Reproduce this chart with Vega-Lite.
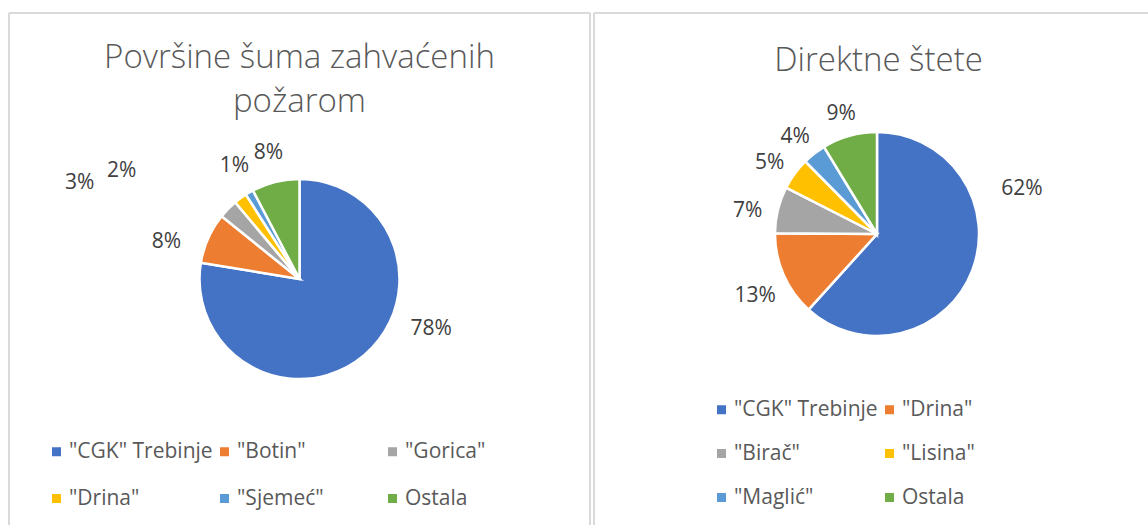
{
  "$schema": "https://vega.github.io/schema/vega-lite/v6.json",
  "padding": {"left": 8, "top": 12, "right": 0, "bottom": 0},
  "background": "#ffffff",
  "spacing": 2,
  "config": {
    "view": {"stroke": null},
    "font": "Open Sans",
    "legend": {
      "orient": "none",
      "title": null,
      "symbolType": "square",
      "symbolSize": 81,
      "symbolStrokeWidth": 0,
      "labelFontSize": 21,
      "labelFont": "Open Sans",
      "labelColor": "#595959",
      "labelOffset": 2,
      "labelLimit": 400,
      "gridAlign": "all",
      "columnPadding": 1,
      "rowPadding": 25,
      "direction": "horizontal"
    },
    "title": {"font": "Open Sans", "fontSize": 33, "fontWeight": 300, "color": "#595959", "anchor": "middle", "frame": "group"},
    "text": {"fontSize": 21, "color": "#404040", "font": "Open Sans"}
  },
  "resolve": {"scale": {"color": "independent", "theta": "independent"}},
  "hconcat": [
    {
      "width": 581,
      "height": 512,
      "title": {"text": ["Površine šuma zahvaćenih", "požarom"], "lineHeight": 44, "offset": -106},
      "data": {"values": [
        {"i": 1, "k": "\"CGK\" Trebinje", "v": 0.776},
        {"i": 2, "k": "\"Botin\"", "v": 0.082},
        {"i": 3, "k": "\"Gorica\"", "v": 0.031},
        {"i": 4, "k": "\"Drina\"", "v": 0.021},
        {"i": 5, "k": "\"Sjemeć\"", "v": 0.013},
        {"i": 6, "k": "Ostala", "v": 0.077}
      ]},
      "layer": [
        {"mark": {"type": "rule", "stroke": "#d9d9d9", "strokeWidth": 1}, "encoding": {"x": {"value": 0}, "y": {"value": 0}, "y2": {"value": "height"}}},
        {"mark": {"type": "rule", "stroke": "#d9d9d9", "strokeWidth": 1}, "encoding": {"x": {"value": "width"}, "y": {"value": 0}, "y2": {"value": "height"}}},
        {"mark": {"type": "rule", "stroke": "#d9d9d9", "strokeWidth": 1}, "encoding": {"x": {"value": 0}, "x2": {"value": "width"}, "y": {"value": 0}}},
        {
          "mark": {"type": "arc", "radius": 100, "stroke": "#ffffff", "strokeWidth": 2.5, "y": 266},
          "encoding": {
            "theta": {"field": "v", "type": "quantitative", "stack": true},
            "order": {"field": "i", "type": "quantitative"},
            "color": {"field": "k", "type": "nominal",
              "scale": {"domain": ["\"CGK\" Trebinje", "\"Botin\"", "\"Gorica\"", "\"Drina\"", "\"Sjemeć\"", "Ostala"],
                        "range": ["#4472C4", "#ED7D31", "#A5A5A5", "#FFC000", "#5B9BD5", "#70AD47"]},
              "legend": {"columns": 3, "legendX": 37, "legendY": 428}}
          }
        },
        {
          "mark": {"type": "text", "radius": 130, "y": 266},
          "encoding": {
            "theta": {"field": "v", "type": "quantitative", "stack": true},
            "order": {"field": "i", "type": "quantitative"},
            "detail": {"field": "k", "type": "nominal"},
            "text": {"condition": {"test": "datum.i == 5 || datum.i == 6", "field": "v", "type": "quantitative", "format": ".0%"}, "value": ""}}
        },
        {
          "mark": {"type": "text", "radius": 137, "dx": -8, "dy": 19, "y": 266},
          "encoding": {
            "theta": {"field": "v", "type": "quantitative", "stack": true},
            "order": {"field": "i", "type": "quantitative"},
            "detail": {"field": "k", "type": "nominal"},
            "text": {"condition": {"test": "datum.i == 2", "field": "v", "type": "quantitative", "format": ".0%"}, "value": ""}}
        },
        {
          "mark": {"type": "text", "radius": 137, "dx": 43, "dy": -54, "y": 266},
          "encoding": {
            "theta": {"field": "v", "type": "quantitative", "stack": true},
            "order": {"field": "i", "type": "quantitative"},
            "detail": {"field": "k", "type": "nominal"},
            "text": {"condition": {"test": "datum.i == 1", "field": "v", "type": "quantitative", "format": ".0%"}, "value": ""}}
        },
        {
          "mark": {"type": "text", "radius": 137, "dx": -122, "y": 266},
          "encoding": {
            "theta": {"field": "v", "type": "quantitative", "stack": true},
            "order": {"field": "i", "type": "quantitative"},
            "detail": {"field": "k", "type": "nominal"},
            "text": {"condition": {"test": "datum.i == 3", "field": "v", "type": "quantitative", "format": ".0%"}, "value": ""}}
        },
        {
          "mark": {"type": "text", "radius": 137, "dx": -97, "dy": 3, "y": 266},
          "encoding": {
            "theta": {"field": "v", "type": "quantitative", "stack": true},
            "order": {"field": "i", "type": "quantitative"},
            "detail": {"field": "k", "type": "nominal"},
            "text": {"condition": {"test": "datum.i == 4", "field": "v", "type": "quantitative", "format": ".0%"}, "value": ""}}
        }
      ]
    },
    {
      "width": 555,
      "height": 512,
      "title": {"text": "Direktne štete", "offset": -65, "dx": 7},
      "data": {"values": [
        {"i": 1, "k": "\"CGK\" Trebinje", "v": 0.617},
        {"i": 2, "k": "\"Drina\"", "v": 0.134},
        {"i": 3, "k": "\"Birač\"", "v": 0.074},
        {"i": 4, "k": "\"Lisina\"", "v": 0.051},
        {"i": 5, "k": "\"Maglić\"", "v": 0.037},
        {"i": 6, "k": "Ostala", "v": 0.087}
      ]},
      "layer": [
        {"mark": {"type": "rule", "stroke": "#d9d9d9", "strokeWidth": 1}, "encoding": {"x": {"value": 0}, "y": {"value": 0}, "y2": {"value": "height"}}},
        {"mark": {"type": "rule", "stroke": "#d9d9d9", "strokeWidth": 1}, "encoding": {"x": {"value": 0}, "x2": {"value": "width"}, "y": {"value": 0}}},
        {
          "mark": {"type": "arc", "radius": 102, "stroke": "#ffffff", "strokeWidth": 2.5, "x": 283, "y": 221},
          "encoding": {
            "theta": {"field": "v", "type": "quantitative", "stack": true},
            "order": {"field": "i", "type": "quantitative"},
            "color": {"field": "k", "type": "nominal",
              "scale": {"domain": ["\"CGK\" Trebinje", "\"Drina\"", "\"Birač\"", "\"Lisina\"", "\"Maglić\"", "Ostala"],
                        "range": ["#4472C4", "#ED7D31", "#A5A5A5", "#FFC000", "#5B9BD5", "#70AD47"]},
              "legend": {"columns": 2, "legendX": 117, "legendY": 386, "rowPadding": 22}}
          }
        },
        {
          "mark": {"type": "text", "radius": 133, "dy": 8, "x": 283, "y": 221},
          "encoding": {
            "theta": {"field": "v", "type": "quantitative", "stack": true},
            "order": {"field": "i", "type": "quantitative"},
            "detail": {"field": "k", "type": "nominal"},
            "text": {"condition": {"test": "datum.i != 1", "field": "v", "type": "quantitative", "format": ".0%"}, "value": ""}}
        },
        {
          "mark": {"type": "text", "radius": 60, "dx": 89, "dy": -67, "x": 283, "y": 221},
          "encoding": {
            "theta": {"field": "v", "type": "quantitative", "stack": true},
            "order": {"field": "i", "type": "quantitative"},
            "detail": {"field": "k", "type": "nominal"},
            "text": {"condition": {"test": "datum.i == 1", "field": "v", "type": "quantitative", "format": ".0%"}, "value": ""}}
        }
      ]
    }
  ]
}
